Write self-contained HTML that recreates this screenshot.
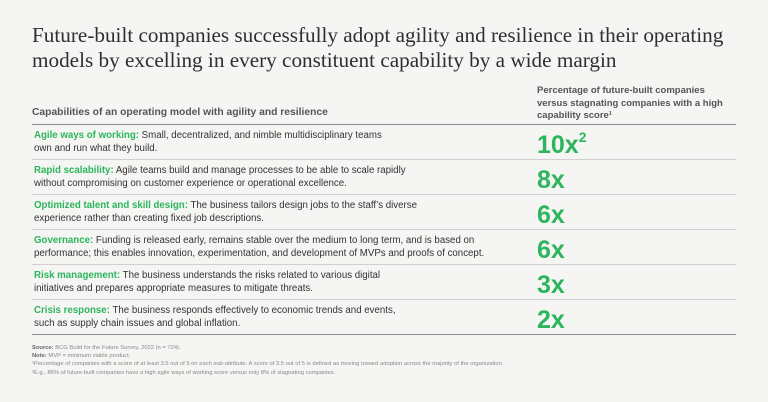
<!DOCTYPE html>
<html><head><meta charset="utf-8"><style>
body{margin:0;background:#f5f5f3;width:768px;height:402px;overflow:hidden;font-family:"Liberation Sans",sans-serif;color:#333;}
.title{position:absolute;left:32px;top:23px;width:736px;white-space:nowrap;font-family:"Liberation Serif",serif;font-size:21.2px;line-height:25px;color:#2f2f2f;}
.hdrL{position:absolute;left:32px;top:107px;font-size:10.3px;font-weight:bold;color:#555;}
.hdrR{position:absolute;left:537px;top:85px;font-size:9.5px;line-height:12.5px;font-weight:bold;color:#555;width:200px;}
.line{position:absolute;left:32px;width:704px;height:1px;background:#d0d0d0;}
.row{position:absolute;left:32px;width:704px;height:35px;}
.desc{position:absolute;left:2px;top:4px;font-size:9.7px;line-height:13px;color:#333;width:520px;}
.desc b{color:#2db55d;}
.val{position:absolute;left:505px;top:5px;font-size:25px;font-weight:bold;color:#2db55d;line-height:30px;}
.val sup{font-size:14px;vertical-align:top;line-height:14px;}
.foot{position:absolute;left:32px;top:344px;font-size:5.8px;line-height:8.2px;color:#888;width:720px;}
.foot b{color:#666;}
</style></head><body>
<div class="title">Future-built companies successfully adopt agility and resilience in their operating<br>models by excelling in every constituent capability by a wide margin</div>
<div class="hdrL">Capabilities of an operating model with agility and resilience</div>
<div class="hdrR">Percentage of future-built companies versus stagnating companies with a high capability score¹</div>
<div id="tbl"></div>
<div class="foot"><b>Source:</b> BCG Build for the Future Survey, 2022 (n = 724).<br><b>Note:</b> MVP = minimum viable product.<br>¹Percentage of companies with a score of at least 3.5 out of 5 on each sub-attribute. A score of 3.5 out of 5 is defined as moving toward adoption across the majority of the organization.<br>²E.g., 86% of future-built companies have a high agile ways of working score versus only 8% of stagnating companies.</div>
<script>
const names=["Agile ways of working:","Rapid scalability:","Optimized talent and skill design:","Governance:","Risk management:","Crisis response:"];
const descs=[" Small, decentralized, and nimble multidisciplinary teams<br>own and run what they build."," Agile teams build and manage processes to be able to scale rapidly<br>without compromising on customer experience or operational excellence."," The business tailors design jobs to the staff’s diverse<br>experience rather than creating fixed job descriptions."," Funding is released early, remains stable over the medium to long term, and is based on<br>performance; this enables innovation, experimentation, and development of MVPs and proofs of concept."," The business understands the risks related to various digital<br>initiatives and prepares appropriate measures to mitigate threats."," The business responds effectively to economic trends and events,<br>such as supply chain issues and global inflation."];
const values=[10,8,6,6,3,2];
const valueNotes=["2","","","","",""];
const tbl=document.getElementById('tbl');
const top0=124,rh=35;
for(let i=0;i<=values.length;i++){
  const l=document.createElement('div');l.className='line';
  
  
  l.style.top=(top0+i*rh)+'px';
  if(i===0||i===values.length){l.style.background='#8a8a8a';}
  tbl.appendChild(l);
}
values.forEach((v,i)=>{
  const r=document.createElement('div');r.className='row';
  
  
  r.style.top=(top0+i*rh+1)+'px';
  r.innerHTML='<div class="desc"><b>'+names[i]+'</b>'+descs[i]+'</div><div class="val">'+v+'x'+(valueNotes[i]?'<sup>'+valueNotes[i]+'</sup>':'')+'</div>';
  tbl.appendChild(r);
});
</script>
</body></html>
